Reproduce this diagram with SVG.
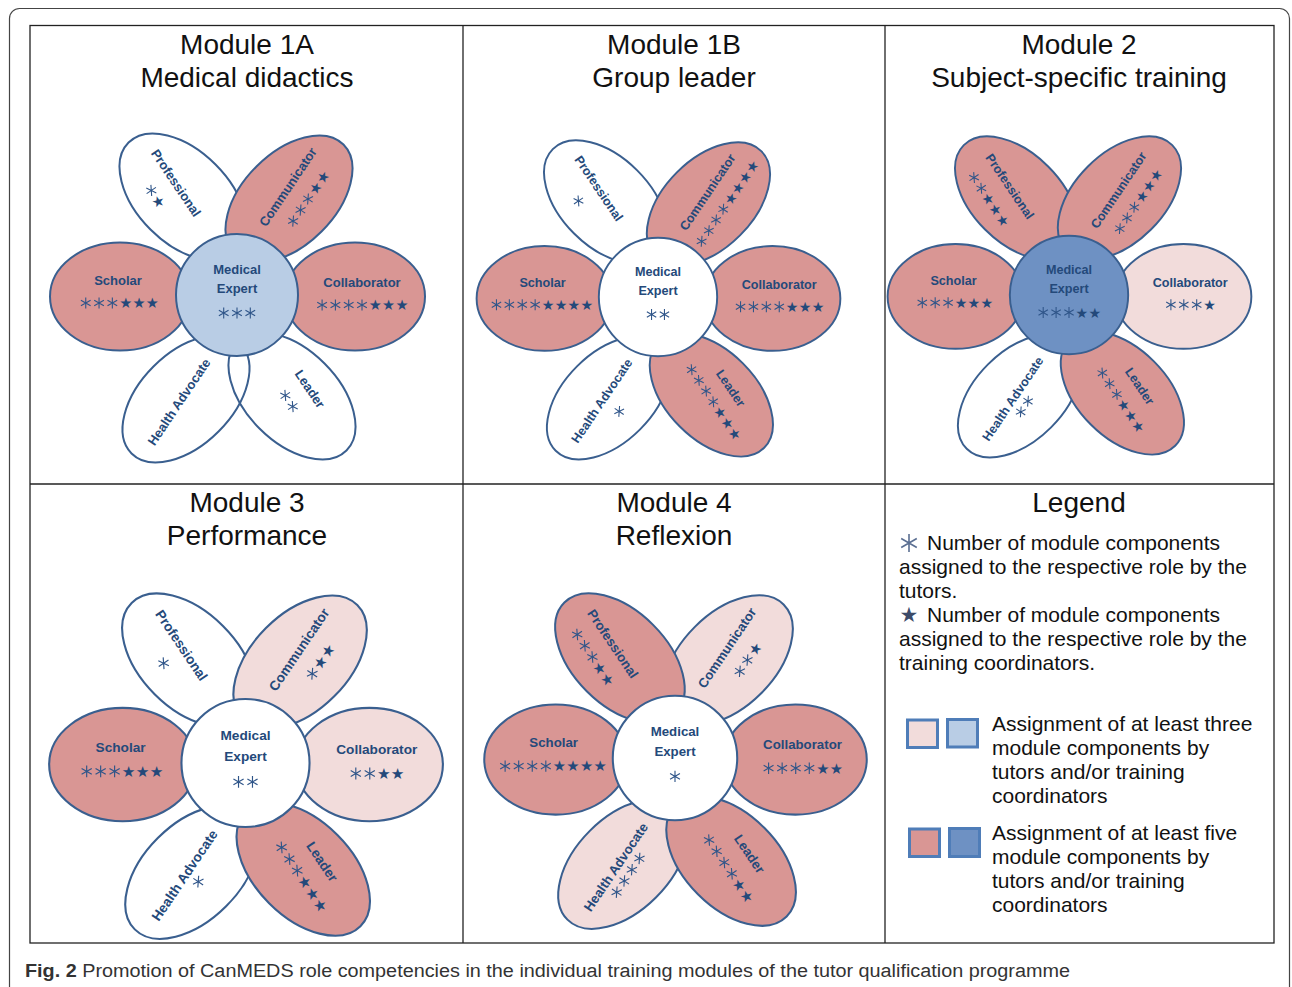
<svg xmlns="http://www.w3.org/2000/svg" width="1292" height="987" viewBox="0 0 1292 987">
<style>
.frame{fill:none;stroke:#444;stroke-width:1.2}
.grid{fill:none;stroke:#222;stroke-width:1.3}
.p{stroke:#3a5f8f;stroke-width:2}
.w{fill:none}
.l{fill:#f2dcdb}
.r{fill:#d99694}
.cw{fill:#ffffff}
.cb{fill:#b9cde5}
.cd{fill:#6e91c3}
.lbl{font-family:"Liberation Sans",Arial,sans-serif;font-weight:bold;font-size:13px;fill:#24497a;text-anchor:middle}
.st{font-family:"DejaVu Sans",sans-serif;font-size:14.5px;fill:#24497a;text-anchor:middle}
.title{font-family:"Liberation Sans",Arial,sans-serif;font-size:28px;fill:#111;text-anchor:middle}
.leg{font-family:"Liberation Sans",Arial,sans-serif;font-size:21px;fill:#111}
.cap{font-family:"Liberation Sans",Arial,sans-serif;font-size:18px;fill:#333}
</style>
<defs>
<ellipse id="petal" cx="0" cy="0" rx="70" ry="54"/>
<ellipse id="dpetal" cx="0" cy="0" rx="77" ry="46"/>
<path id="ast" d="M0,-5.6V5.6M-4.85,-2.8L4.85,2.8M-4.85,2.8L4.85,-2.8" fill="none" stroke="#2f5589" stroke-width="1.1"/>
<path id="astL" d="M0,-9V9M-7.8,-4.5L7.8,4.5M-7.8,4.5L7.8,-4.5" fill="none" stroke="#5b6f92" stroke-width="1.6"/>
</defs>
<rect class="frame" x="9.5" y="8.5" width="1280" height="1000" rx="10"/>
<g id="table">
<rect class="grid" x="30" y="25.5" width="1244" height="917.5"/>
<line class="grid" x1="463" y1="25.5" x2="463" y2="943"/>
<line class="grid" x1="885" y1="25.5" x2="885" y2="943"/>
<line class="grid" x1="30" y1="484" x2="1274" y2="484"/>
</g>
<g id="titles">
<text class="title" x="247" y="54">Module 1A</text>
<text class="title" x="247" y="87">Medical didactics</text>
<text class="title" x="674" y="54">Module 1B</text>
<text class="title" x="674" y="87">Group leader</text>
<text class="title" x="1079" y="54">Module 2</text>
<text class="title" x="1079" y="87">Subject-specific training</text>
<text class="title" x="247" y="512">Module 3</text>
<text class="title" x="247" y="545">Performance</text>
<text class="title" x="674" y="512">Module 4</text>
<text class="title" x="674" y="545">Reflexion</text>
<text class="title" x="1079" y="512">Legend</text>
</g>

<!-- Module 1A -->
<g id="m1a" transform="translate(237,295)">
<g id="m1a-professional"><use href="#dpetal" class="p w" transform="translate(-54,-98) rotate(45)"/>
<text class="lbl" transform="translate(-61,-112) rotate(56)" dy="4.5">Professional</text>
<g transform="translate(-82,-99) rotate(56)"><use href="#ast" x="-6.65"/><text class="st" x="6.65" y="5.2">★</text></g></g>
<g id="m1a-health"><use href="#dpetal" class="p w" transform="translate(-51,104) rotate(-45)"/>
<text class="lbl" transform="translate(-58,107) rotate(-56)" dy="4.5">Health Advocate</text></g>
<g id="m1a-leader"><use href="#dpetal" class="p w" transform="translate(55,101) rotate(45)"/>
<text class="lbl" transform="translate(73,94) rotate(56)" dy="4.5">Leader</text>
<g transform="translate(52,106) rotate(56)"><use href="#ast" x="-6.65"/><use href="#ast" x="6.65"/></g></g>
<g id="m1a-communicator"><use href="#dpetal" class="p r" transform="translate(52,-96) rotate(-45)"/>
<text class="lbl" transform="translate(51,-108) rotate(-56)" dy="4.5">Communicator</text>
<g transform="translate(71,-96) rotate(-56)"><use href="#ast" x="-26.6"/><use href="#ast" x="-13.3"/><use href="#ast" x="0"/><text class="st" x="13.3 26.6" y="5.2">★★</text></g></g>
<g id="m1a-scholar"><use href="#petal" class="p r" transform="translate(-117,1.5)"/>
<text class="lbl" x="-119" y="-10.5">Scholar</text>
<g transform="translate(-118,8)"><use href="#ast" x="-33.25"/><use href="#ast" x="-19.95"/><use href="#ast" x="-6.65"/><text class="st" x="6.65 19.95 33.25" y="5.2">★★★</text></g></g>
<g id="m1a-collaborator"><use href="#petal" class="p r" transform="translate(118,1.5)"/>
<text class="lbl" x="125" y="-8.5">Collaborator</text>
<g transform="translate(125,10)"><use href="#ast" x="-39.9"/><use href="#ast" x="-26.6"/><use href="#ast" x="-13.3"/><use href="#ast" x="0"/><text class="st" x="13.3 26.6 39.9" y="5.2">★★★</text></g></g>
<g id="m1a-expert"><circle class="p cb" r="61"/>
<text class="lbl" y="-21.5">Medical</text><text class="lbl" y="-2">Expert</text>
<g transform="translate(0,18)"><use href="#ast" x="-13.3"/><use href="#ast" x="0"/><use href="#ast" x="13.3"/></g></g>
</g>

<!-- Module 1B -->
<g id="m1b" transform="translate(658,297) scale(0.97)">
<g id="m1b-professional"><use href="#dpetal" class="p w" transform="translate(-54,-98) rotate(45)"/>
<text class="lbl" transform="translate(-61,-112) rotate(56)" dy="4.5">Professional</text>
<g transform="translate(-82,-99) rotate(56)"><use href="#ast" x="0"/></g></g>
<g id="m1b-health"><use href="#dpetal" class="p w" transform="translate(-51,104) rotate(-45)"/>
<text class="lbl" transform="translate(-58,107) rotate(-56)" dy="4.5">Health Advocate</text>
<g transform="translate(-40,118) rotate(-56)"><use href="#ast" x="0"/></g></g>
<g id="m1b-communicator"><use href="#dpetal" class="p r" transform="translate(52,-96) rotate(-45)"/>
<text class="lbl" transform="translate(51,-108) rotate(-56)" dy="4.5">Communicator</text>
<g transform="translate(71,-96) rotate(-56)"><use href="#ast" x="-46.55"/><use href="#ast" x="-33.25"/><use href="#ast" x="-19.95"/><use href="#ast" x="-6.65"/><text class="st" x="6.65 19.95 33.25 46.55" y="5.2">★★★★</text></g></g>
<g id="m1b-scholar"><use href="#petal" class="p r" transform="translate(-117,1.5)"/>
<text class="lbl" x="-119" y="-10.5">Scholar</text>
<g transform="translate(-120,8)"><use href="#ast" x="-46.55"/><use href="#ast" x="-33.25"/><use href="#ast" x="-19.95"/><use href="#ast" x="-6.65"/><text class="st" x="6.65 19.95 33.25 46.55" y="5.2">★★★★</text></g></g>
<g id="m1b-collaborator"><use href="#petal" class="p r" transform="translate(118,1.5)"/>
<text class="lbl" x="125" y="-8.5">Collaborator</text>
<g transform="translate(125,10)"><use href="#ast" x="-39.9"/><use href="#ast" x="-26.6"/><use href="#ast" x="-13.3"/><use href="#ast" x="0"/><text class="st" x="13.3 26.6 39.9" y="5.2">★★★</text></g></g>
<g id="m1b-leader"><use href="#dpetal" class="p r" transform="translate(55,101) rotate(45)"/>
<text class="lbl" transform="translate(75,94) rotate(56)" dy="4.5">Leader</text>
<g transform="translate(57,108) rotate(56)"><use href="#ast" x="-39.9"/><use href="#ast" x="-26.6"/><use href="#ast" x="-13.3"/><use href="#ast" x="0"/><text class="st" x="13.3 26.6 39.9" y="5.2">★★★</text></g></g>
<g id="m1b-expert"><circle class="p cw" r="61"/>
<text class="lbl" y="-21.5">Medical</text><text class="lbl" y="-2">Expert</text>
<g transform="translate(0,18)"><use href="#ast" x="-6.65"/><use href="#ast" x="6.65"/></g></g>
</g>

<!-- Module 2 -->
<g id="m2" transform="translate(1069,295) scale(0.97)">
<g id="m2-health"><use href="#dpetal" class="p w" transform="translate(-51,104) rotate(-45)"/>
<text class="lbl" transform="translate(-58,107) rotate(-56)" dy="4.5">Health Advocate</text>
<g transform="translate(-46,115) rotate(-56)"><use href="#ast" x="-6.65"/><use href="#ast" x="6.65"/></g></g>
<g id="m2-collaborator"><use href="#petal" class="p l" transform="translate(118,1.5)"/>
<text class="lbl" x="125" y="-8.5">Collaborator</text>
<g transform="translate(125,10)"><use href="#ast" x="-19.95"/><use href="#ast" x="-6.65"/><use href="#ast" x="6.65"/><text class="st" x="19.95" y="5.2">★</text></g></g>
<g id="m2-professional"><use href="#dpetal" class="p r" transform="translate(-54,-100) rotate(45)"/>
<text class="lbl" transform="translate(-61,-112) rotate(56)" dy="4.5">Professional</text>
<g transform="translate(-83,-99) rotate(56)"><use href="#ast" x="-26.6"/><use href="#ast" x="-13.3"/><text class="st" x="0 13.3 26.6" y="5.2">★★★</text></g></g>
<g id="m2-communicator"><use href="#dpetal" class="p r" transform="translate(52,-100) rotate(-45)"/>
<text class="lbl" transform="translate(51,-108) rotate(-56)" dy="4.5">Communicator</text>
<g transform="translate(71,-96) rotate(-56)"><use href="#ast" x="-33.25"/><use href="#ast" x="-19.95"/><use href="#ast" x="-6.65"/><text class="st" x="6.65 19.95 33.25" y="5.2">★★★</text></g></g>
<g id="m2-leader"><use href="#dpetal" class="p r" transform="translate(55,101) rotate(45)"/>
<text class="lbl" transform="translate(73,94) rotate(56)" dy="4.5">Leader</text>
<g transform="translate(53,108) rotate(56)"><use href="#ast" x="-33.25"/><use href="#ast" x="-19.95"/><use href="#ast" x="-6.65"/><text class="st" x="6.65 19.95 33.25" y="5.2">★★★</text></g></g>
<g id="m2-scholar"><use href="#petal" class="p r" transform="translate(-117,1.5)"/>
<text class="lbl" x="-119" y="-10.5">Scholar</text>
<g transform="translate(-118,8)"><use href="#ast" x="-33.25"/><use href="#ast" x="-19.95"/><use href="#ast" x="-6.65"/><text class="st" x="6.65 19.95 33.25" y="5.2">★★★</text></g></g>
<g id="m2-expert"><circle class="p cd" r="61"/>
<text class="lbl" y="-21.5">Medical</text><text class="lbl" y="-2">Expert</text>
<g transform="translate(0,18)"><use href="#ast" x="-26.6"/><use href="#ast" x="-13.3"/><use href="#ast" x="0"/><text class="st" x="13.3 26.6" y="5.2">★★</text></g></g>
</g>

<!-- Module 3 -->
<g id="m3" transform="translate(245.5,763) scale(1.05)">
<g id="m3-professional"><use href="#dpetal" class="p w" transform="translate(-54,-98) rotate(45)"/>
<text class="lbl" transform="translate(-61,-112) rotate(56)" dy="4.5">Professional</text>
<g transform="translate(-78,-95) rotate(56)"><use href="#ast" x="0"/></g></g>
<g id="m3-health"><use href="#dpetal" class="p w" transform="translate(-51,104) rotate(-45)"/>
<text class="lbl" transform="translate(-58,107) rotate(-56)" dy="4.5">Health Advocate</text>
<g transform="translate(-45,113) rotate(-56)"><use href="#ast" x="0"/></g></g>
<g id="m3-communicator"><use href="#dpetal" class="p l" transform="translate(52,-96) rotate(-45)"/>
<text class="lbl" transform="translate(51,-108) rotate(-56)" dy="4.5">Communicator</text>
<g transform="translate(71,-96) rotate(-56)"><use href="#ast" x="-13.3"/><text class="st" x="0 13.3" y="5.2">★★</text></g></g>
<g id="m3-collaborator"><use href="#petal" class="p l" transform="translate(118,1.5)"/>
<text class="lbl" x="125" y="-8.5">Collaborator</text>
<g transform="translate(125,10)"><use href="#ast" x="-19.95"/><use href="#ast" x="-6.65"/><text class="st" x="6.65 19.95" y="5.2">★★</text></g></g>
<g id="m3-leader"><use href="#dpetal" class="p r" transform="translate(55,101) rotate(45)"/>
<text class="lbl" transform="translate(73,94) rotate(56)" dy="4.5">Leader</text>
<g transform="translate(53,108) rotate(56)"><use href="#ast" x="-33.25"/><use href="#ast" x="-19.95"/><use href="#ast" x="-6.65"/><text class="st" x="6.65 19.95 33.25" y="5.2">★★★</text></g></g>
<g id="m3-scholar"><use href="#petal" class="p r" transform="translate(-117,1.5)"/>
<text class="lbl" x="-119" y="-10.5">Scholar</text>
<g transform="translate(-118,8)"><use href="#ast" x="-33.25"/><use href="#ast" x="-19.95"/><use href="#ast" x="-6.65"/><text class="st" x="6.65 19.95 33.25" y="5.2">★★★</text></g></g>
<g id="m3-expert"><circle class="p cw" r="61"/>
<text class="lbl" y="-21.5">Medical</text><text class="lbl" y="-2">Expert</text>
<g transform="translate(0,18)"><use href="#ast" x="-6.65"/><use href="#ast" x="6.65"/></g></g>
</g>

<!-- Module 4 -->
<g id="m4" transform="translate(675,758) scale(1.02)">
<g id="m4-communicator"><use href="#dpetal" class="p l" transform="translate(52,-96) rotate(-45)"/>
<text class="lbl" transform="translate(51,-108) rotate(-56)" dy="4.5">Communicator</text>
<g transform="translate(71,-96) rotate(-56)"><use href="#ast" x="-13.3"/><use href="#ast" x="0"/><text class="st" x="13.3" y="5.2">★</text></g></g>
<g id="m4-health"><use href="#dpetal" class="p l" transform="translate(-51,104) rotate(-45)"/>
<text class="lbl" transform="translate(-58,107) rotate(-56)" dy="4.5">Health Advocate</text>
<g transform="translate(-46,115) rotate(-56)"><use href="#ast" x="-19.95"/><use href="#ast" x="-6.65"/><use href="#ast" x="6.65"/><use href="#ast" x="19.95"/></g></g>
<g id="m4-professional"><use href="#dpetal" class="p r" transform="translate(-54,-98) rotate(45)"/>
<text class="lbl" transform="translate(-61,-112) rotate(56)" dy="4.5">Professional</text>
<g transform="translate(-81,-99) rotate(56)"><use href="#ast" x="-26.6"/><use href="#ast" x="-13.3"/><use href="#ast" x="0"/><text class="st" x="13.3 26.6" y="5.2">★★</text></g></g>
<g id="m4-leader"><use href="#dpetal" class="p r" transform="translate(55,101) rotate(45)"/>
<text class="lbl" transform="translate(73,94) rotate(56)" dy="4.5">Leader</text>
<g transform="translate(52,108) rotate(56)"><use href="#ast" x="-33.25"/><use href="#ast" x="-19.95"/><use href="#ast" x="-6.65"/><use href="#ast" x="6.65"/><text class="st" x="19.95 33.25" y="5.2">★★</text></g></g>
<g id="m4-scholar"><use href="#petal" class="p r" transform="translate(-117,1.5)"/>
<text class="lbl" x="-119" y="-10.5">Scholar</text>
<g transform="translate(-120,8)"><use href="#ast" x="-46.55"/><use href="#ast" x="-33.25"/><use href="#ast" x="-19.95"/><use href="#ast" x="-6.65"/><text class="st" x="6.65 19.95 33.25 46.55" y="5.2">★★★★</text></g></g>
<g id="m4-collaborator"><use href="#petal" class="p r" transform="translate(118,1.5)"/>
<text class="lbl" x="125" y="-8.5">Collaborator</text>
<g transform="translate(125,10)"><use href="#ast" x="-33.25"/><use href="#ast" x="-19.95"/><use href="#ast" x="-6.65"/><use href="#ast" x="6.65"/><text class="st" x="19.95 33.25" y="5.2">★★</text></g></g>
<g id="m4-expert"><circle class="p cw" r="61"/>
<text class="lbl" y="-21.5">Medical</text><text class="lbl" y="-2">Expert</text>
<g transform="translate(0,18)"><use href="#ast" x="0"/></g></g>
</g>

<!-- Legend -->
<g id="legend">
<use href="#astL" x="909" y="543"/>
<text class="leg" x="927" y="550">Number of module components</text>
<text class="leg" x="899" y="574">assigned to the respective role by the</text>
<text class="leg" x="899" y="598">tutors.</text>
<text x="909" y="622" style="font-family:'DejaVu Sans',sans-serif;font-size:21px;fill:#3d4b68;text-anchor:middle">★</text>
<text class="leg" x="927" y="622">Number of module components</text>
<text class="leg" x="899" y="646">assigned to the respective role by the</text>
<text class="leg" x="899" y="670">training coordinators.</text>
<rect x="907.5" y="720" width="30" height="27.5" style="fill:#f2dcdb;stroke:#4f7db8;stroke-width:3"/>
<rect x="947.5" y="719.5" width="30" height="27.5" style="fill:#b9cde5;stroke:#4f7db8;stroke-width:3"/>
<text class="leg" x="992" y="731">Assignment of at least three</text>
<text class="leg" x="992" y="755">module components by</text>
<text class="leg" x="992" y="779">tutors and/or training</text>
<text class="leg" x="992" y="803">coordinators</text>
<rect x="909.5" y="829" width="30" height="27.5" style="fill:#d99694;stroke:#4f7db8;stroke-width:3"/>
<rect x="949.5" y="828.5" width="30" height="28" style="fill:#6e91c3;stroke:#4f7db8;stroke-width:3"/>
<text class="leg" x="992" y="840">Assignment of at least five</text>
<text class="leg" x="992" y="864">module components by</text>
<text class="leg" x="992" y="888">tutors and/or training</text>
<text class="leg" x="992" y="912">coordinators</text>
</g>

<text class="cap" x="25" y="977" textLength="1045" lengthAdjust="spacingAndGlyphs"><tspan font-weight="bold">Fig. 2</tspan> Promotion of CanMEDS role competencies in the individual training modules of the tutor qualification programme</text>
</svg>
